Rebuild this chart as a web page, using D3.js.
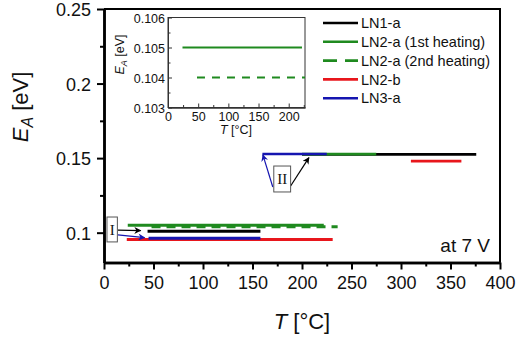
<!DOCTYPE html>
<html>
<head>
<meta charset="utf-8">
<script src="https://cdn.jsdelivr.net/npm/d3@7"></script>
<style>
  body { margin: 0; background: #fff; }
  svg { display: block; font-family: Arial, "Liberation Sans", sans-serif; }
</style>
</head>
<body>
<svg class="chart" width="516" height="337"></svg>
<script>
// series (legend order)
const seriesNames = ['LN1-a', 'LN2-a (1st heating)', 'LN2-a (2nd heating)', 'LN2-b', 'LN3-a'];
const seriesColors = ['#000000', '#1f8a1f', '#1f8a1f', '#e8161c', '#1515b0'];
const seriesDash = ['', '', '9,6', '', ''];

// segments: series index, activation energy, start / end temperature
const segSeries = [0, 1, 2, 3, 4, 0, 1, 3, 4];
const segE      = [0.101, 0.105, 0.104, 0.0954, 0.0963, 0.1525, 0.1527, 0.148, 0.1528];
const segT0     = [44, 24, 48, 23, 45, 200, 200, 310, 160];
const segT1     = [158, 222, 236, 231, 158, 376, 275, 361, 225];

// annotations (data units)
const boxLabels = ['I', 'II'];
const boxT0 = [3, 171.5];
const boxT1 = [13.5, 188.5];
const boxE0 = [0.0938, 0.1273];
const boxE1 = [0.1105, 0.1447];
const arrowColor = ['#000000', '#1515b0', '#1515b0', '#000000'];
const arrowFrom = [[14, 0.1017], [14, 0.0985], [170.5, 0.1306], [188.5, 0.1313]];
const arrowTo   = [[37, 0.1014], [41, 0.0967], [160.5, 0.1522], [207, 0.1503]];

// axes ticks
const xMajor = [0, 50, 100, 150, 200, 250, 300, 350, 400];
const xMinor = [25, 75, 125, 175, 225, 275, 325, 375];
const yMajor = [0.1, 0.15, 0.2, 0.25];
const yMinor = [0.125, 0.175, 0.225];

const insetXMajor = [0, 50, 100, 150, 200];
const insetXMinor = [25, 75, 125, 175, 225];
const insetYMajor = [0.103, 0.104, 0.105, 0.106];
const insetYMinor = [0.1035, 0.1045, 0.1055];
const insetSeries = [1, 2];

const svg = d3.select('svg.chart');

const x = d3.scaleLinear().domain([0, 400]).range([104, 500]);
const y = d3.scaleLinear().domain([0.08, 0.25]).range([262.5, 9]);

const font = 'Arial, "Liberation Sans", sans-serif';
const serif = '"Times New Roman", "Liberation Serif", serif';

// ---- main plot axes
const xAx = svg.append('g').attr('transform', `translate(0, ${y.range()[0]})`)
  .call(d3.axisBottom(x).tickValues(xMajor).tickSize(7).tickSizeOuter(0).tickFormat(d3.format('d')));
svg.append('g').attr('transform', `translate(0, ${y.range()[0]})`)
  .call(d3.axisBottom(x).tickValues(xMinor).tickSize(4).tickSizeOuter(0).tickFormat(''));

const yAx = svg.append('g').attr('transform', `translate(${x.range()[0]}, 0)`)
  .call(d3.axisLeft(y).tickValues(yMajor).tickSize(7).tickSizeOuter(0).tickFormat(d3.format('')));
svg.append('g').attr('transform', `translate(${x.range()[0]}, 0)`)
  .call(d3.axisLeft(y).tickValues(yMinor).tickSize(4).tickSizeOuter(0).tickFormat(''));

svg.selectAll('.domain').attr('stroke', '#000').attr('stroke-width', 2.5);
svg.selectAll('.tick line').attr('stroke', '#000').attr('stroke-width', 2);

xAx.selectAll('text').attr('dy', '1.1em').attr('y', 7)
  .style('font-size', '18px').style('font-family', font).attr('fill', '#111');
yAx.selectAll('text').attr('x', -13).attr('dy', '0.36em')
  .style('font-size', '18px').style('font-family', font).attr('fill', '#111');

// frame top/right
svg.append('path')
  .attr('d', `M${x.range()[0]},${y.range()[1]}H${x.range()[1]}V${y.range()[0]}`)
  .attr('fill', 'none').attr('stroke', '#000').attr('stroke-width', 2);

// axis titles
const yt = svg.append('text')
  .attr('transform', 'translate(28, 107) rotate(-90)')
  .attr('text-anchor', 'middle')
  .style('font-family', font).style('font-size', '22px').attr('fill', '#111');
yt.append('tspan').style('font-style', 'italic').text('E');
yt.append('tspan').style('font-style', 'italic').style('font-size', '16px').attr('dy', 5).text('A');
yt.append('tspan').attr('dy', -5).text(' [eV]');

const xt = svg.append('text')
  .attr('x', (x.range()[0] + x.range()[1]) / 2).attr('y', 329)
  .attr('text-anchor', 'middle')
  .style('font-family', font).style('font-size', '22px').attr('fill', '#111');
xt.append('tspan').style('font-style', 'italic').text('T');
xt.append('tspan').text(' [°C]');

svg.append('text')
  .attr('x', 490).attr('y', 252).attr('text-anchor', 'end')
  .style('font-family', font).style('font-size', '19px').attr('fill', '#111')
  .text('at 7 V');

// ---- data segments
const segs = segSeries.map((s, i) => ({ s, e: segE[i], t0: segT0[i], t1: segT1[i] }));

svg.append('g').attr('class', 'segs')
  .selectAll('line')
  .data(segs)
  .enter()
  .append('line')
  .attr('x1', d => x(d.t0)).attr('x2', d => x(d.t1))
  .attr('y1', d => y(d.e)).attr('y2', d => y(d.e))
  .attr('stroke', d => seriesColors[d.s])
  .attr('stroke-dasharray', d => seriesDash[d.s])
  .attr('stroke-width', d => d.e < 0.12 ? 3 : 2.6);

// ---- annotations
const defs = svg.append('defs');
arrowColor.forEach((c, i) => {
  defs.append('marker')
    .attr('id', 'ah' + i)
    .attr('viewBox', '0 0 10 10').attr('refX', 9).attr('refY', 5)
    .attr('markerWidth', 9).attr('markerHeight', 7)
    .attr('markerUnits', 'userSpaceOnUse')
    .attr('orient', 'auto')
    .append('path').attr('d', 'M0,0L10,5L0,10L3,5Z').attr('fill', c);
});

svg.append('g').selectAll('line')
  .data(arrowFrom)
  .enter()
  .append('line')
  .attr('x1', d => x(d[0])).attr('y1', d => y(d[1]))
  .attr('x2', (d, i) => x(arrowTo[i][0])).attr('y2', (d, i) => y(arrowTo[i][1]))
  .attr('stroke', (d, i) => arrowColor[i])
  .attr('stroke-width', 1.2)
  .attr('marker-end', (d, i) => `url(#ah${i})`);

const boxes = svg.append('g').selectAll('g')
  .data(boxLabels)
  .enter()
  .append('g');
boxes.append('rect')
  .attr('x', (d, i) => x(boxT0[i])).attr('y', (d, i) => y(boxE1[i]))
  .attr('width', (d, i) => x(boxT1[i]) - x(boxT0[i]))
  .attr('height', (d, i) => y(boxE0[i]) - y(boxE1[i]))
  .attr('fill', '#fff').attr('stroke', '#555').attr('stroke-width', 1);
boxes.append('text')
  .attr('x', (d, i) => (x(boxT0[i]) + x(boxT1[i])) / 2)
  .attr('y', (d, i) => (y(boxE0[i]) + y(boxE1[i])) / 2)
  .attr('dy', '0.35em').attr('text-anchor', 'middle')
  .style('font-family', serif).style('font-size', '15px').attr('fill', '#111')
  .text(d => d);

// ---- legend
const legend = svg.append('g').attr('class', 'legend');
const legRows = legend.selectAll('g')
  .data(seriesNames)
  .enter()
  .append('g')
  .attr('transform', (d, i) => `translate(323, ${23 + i * 18.8})`);
legRows.append('line')
  .attr('x1', 0).attr('x2', 35)
  .attr('stroke', (d, i) => seriesColors[i])
  .attr('stroke-dasharray', (d, i) => seriesDash[i] ? '14,8' : '')
  .attr('stroke-width', 2.6);
legRows.append('text')
  .attr('x', 38).attr('dy', '0.36em')
  .style('font-family', font).style('font-size', '14.5px').attr('fill', '#111')
  .text(d => d);

// ---- inset
const ix = d3.scaleLinear().domain([0, 227]).range([168, 305]);
const iy = d3.scaleLinear().domain([0.103, 0.106]).range([107.5, 17.5]);

const inset = svg.append('g').attr('class', 'inset');
inset.append('rect')
  .attr('x', ix.range()[0]).attr('y', iy.range()[1])
  .attr('width', ix.range()[1] - ix.range()[0])
  .attr('height', iy.range()[0] - iy.range()[1])
  .attr('fill', '#fff').attr('stroke', '#333').attr('stroke-width', 1);

const ixAx = inset.append('g').attr('transform', `translate(0, ${iy.range()[0]})`)
  .call(d3.axisBottom(ix).tickValues(insetXMajor).tickSize(-4).tickSizeOuter(0).tickFormat(d3.format('d')));
inset.append('g').attr('transform', `translate(0, ${iy.range()[0]})`)
  .call(d3.axisBottom(ix).tickValues(insetXMinor).tickSize(-2.5).tickSizeOuter(0).tickFormat(''));
const iyAx = inset.append('g').attr('transform', `translate(${ix.range()[0]}, 0)`)
  .call(d3.axisLeft(iy).tickValues(insetYMajor).tickSize(-4).tickSizeOuter(0).tickFormat(d3.format('.3f')));
inset.append('g').attr('transform', `translate(${ix.range()[0]}, 0)`)
  .call(d3.axisLeft(iy).tickValues(insetYMinor).tickSize(-2.5).tickSizeOuter(0).tickFormat(''));

inset.selectAll('.domain').attr('stroke', '#333').attr('stroke-width', 1);
inset.selectAll('.tick line').attr('stroke', '#333').attr('stroke-width', 1);
ixAx.selectAll('text').attr('y', 3).attr('dy', '0.85em')
  .style('font-size', '12.5px').style('font-family', font).attr('fill', '#111');
iyAx.selectAll('text').attr('x', -3).attr('dy', '0.36em')
  .style('font-size', '12.5px').style('font-family', font).attr('fill', '#111');

inset.append('clipPath').attr('id', 'insetClip')
  .append('rect')
  .attr('x', ix.range()[0]).attr('y', iy.range()[1])
  .attr('width', ix.range()[1] - ix.range()[0])
  .attr('height', iy.range()[0] - iy.range()[1]);

inset.append('g').attr('clip-path', 'url(#insetClip)')
  .selectAll('line')
  .data(segs.filter(d => insetSeries.includes(d.s) && d.e < 0.12))
  .enter()
  .append('line')
  .attr('x1', d => ix(d.t0)).attr('x2', d => ix(d.t1))
  .attr('y1', d => iy(d.e)).attr('y2', d => iy(d.e))
  .attr('stroke', d => seriesColors[d.s])
  .attr('stroke-dasharray', d => seriesDash[d.s] ? '8,7' : '')
  .attr('stroke-width', 1.8);

const iyt = inset.append('text')
  .attr('transform', `translate(124, ${(iy.range()[0] + iy.range()[1]) / 2 - 8}) rotate(-90)`)
  .attr('text-anchor', 'middle')
  .style('font-family', font).style('font-size', '12.5px').attr('fill', '#111');
iyt.append('tspan').style('font-style', 'italic').text('E');
iyt.append('tspan').style('font-style', 'italic').style('font-size', '9px').attr('dy', 3).text('A');
iyt.append('tspan').attr('dy', -3).text(' [eV]');

const ixt = inset.append('text')
  .attr('x', 236).attr('y', 134).attr('text-anchor', 'middle')
  .style('font-family', font).style('font-size', '12.5px').attr('fill', '#111');
ixt.append('tspan').style('font-style', 'italic').text('T');
ixt.append('tspan').text(' [°C]');
</script>
</body>
</html>
